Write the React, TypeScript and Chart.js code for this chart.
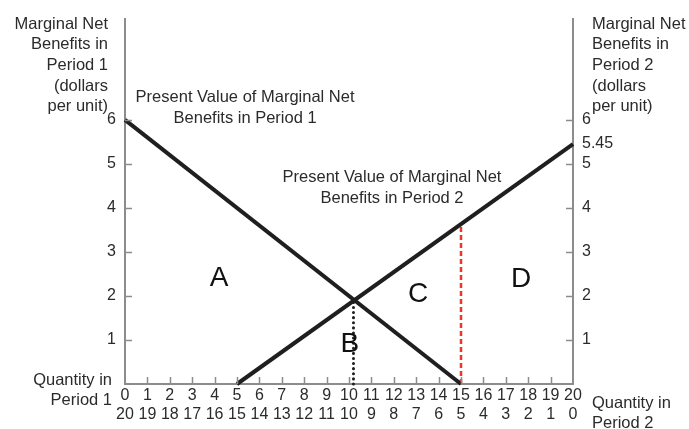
import React, { useEffect, useRef } from 'react';
import { Chart, registerables } from 'chart.js';

Chart.register(...registerables);

// ---- data ----
const qtyPeriod1 = [0, 1, 2, 3, 4, 5, 6, 7, 8, 9, 10, 11, 12, 13, 14, 15, 16, 17, 18, 19, 20];
const qtyPeriod2 = [20, 19, 18, 17, 16, 15, 14, 13, 12, 11, 10, 9, 8, 7, 6, 5, 4, 3, 2, 1, 0];
const leftTicks = [1, 2, 3, 4, 5, 6];
const rightTicks = [1, 2, 3, 4, 5, 5.45, 6];
const rightTickMarks = [1, 2, 3, 4, 5, 6];
const innerXTicks = [1, 2, 3, 4, 5, 6, 7, 8, 9, 10, 11, 12, 13, 14, 15, 16, 17, 18, 19];

const pvPeriod1 = [{ x: 0, y: 6 }, { x: 15, y: 0 }];
const pvPeriod2 = [{ x: 5, y: 0 }, { x: 20, y: 5.45 }];
const intersectionDrop = [{ x: 10.2, y: 0 }, { x: 10.2, y: 1.92 }];
const redDrop = [{ x: 15, y: 0 }, { x: 15, y: 3.63 }];

const areaLetters = ['A', 'B', 'C', 'D'];
const areaX = [4.2, 10.04, 13.08, 17.68];
const areaY = [2.4, 0.91, 2.04, 2.37];

const curveLabels = [
  ['Present Value of Marginal Net', 'Benefits in Period 1'],
  ['Present Value of Marginal Net', 'Benefits in Period 2'],
];
const curveLabelX = [5.36, 11.92];
const curveLabelY = [6.52, 4.7];

const leftTitle = ['Marginal Net', 'Benefits in', 'Period 1', '(dollars', 'per unit)'];
const rightTitle = ['Marginal Net', 'Benefits in', 'Period 2', '(dollars', 'per unit)'];
const bottomLeftTitle = ['Quantity in', 'Period 1'];
const bottomRightTitle = ['Quantity in', 'Period 2'];

const FONT = "'Liberation Sans', Arial, Helvetica, sans-serif";
const TEXT = '#2b2b2b';
const AXIS = '#8c8c8c';
const LINE = '#1f1f1f';

const overlayPlugin = {
  id: 'overlay',
  afterDraw(chart: any) {
    const { ctx, chartArea, scales } = chart;
    const x = scales.x;
    const y = scales.y;
    const y2 = scales.y2;
    ctx.save();
    // inward tick marks
    ctx.strokeStyle = AXIS;
    ctx.lineWidth = 1.5;
    ctx.beginPath();
    leftTicks.forEach((v) => {
      const py = Math.round(y.getPixelForValue(v)) + 0.5;
      ctx.moveTo(chartArea.left, py);
      ctx.lineTo(chartArea.left + 7, py);
    });
    rightTickMarks.forEach((v) => {
      const py = Math.round(y2.getPixelForValue(v)) + 0.5;
      ctx.moveTo(chartArea.right - 7, py);
      ctx.lineTo(chartArea.right, py);
    });
    innerXTicks.forEach((v) => {
      const px = Math.round(x.getPixelForValue(v)) + 0.5;
      ctx.moveTo(px, chartArea.bottom);
      ctx.lineTo(px, chartArea.bottom - 7);
    });
    ctx.stroke();

    // curve labels
    ctx.fillStyle = TEXT;
    ctx.font = `16.5px ${FONT}`;
    ctx.textAlign = 'center';
    ctx.textBaseline = 'middle';
    curveLabels.forEach((lines, i) => {
      const px = x.getPixelForValue(curveLabelX[i]);
      const py = y.getPixelForValue(curveLabelY[i]);
      lines.forEach((t, j) => ctx.fillText(t, px, py + j * 21));
    });

    // area letters
    ctx.fillStyle = '#111';
    ctx.font = `28px ${FONT}`;
    areaLetters.forEach((t, i) => {
      ctx.fillText(t, x.getPixelForValue(areaX[i]), y.getPixelForValue(areaY[i]));
    });

    // axis titles
    ctx.fillStyle = TEXT;
    ctx.font = `16.5px ${FONT}`;
    ctx.textBaseline = 'alphabetic';
    ctx.textAlign = 'right';
    leftTitle.forEach((t, j) => ctx.fillText(t, chartArea.left - 17, chartArea.top + 10 + j * 20.7));
    bottomLeftTitle.forEach((t, j) => ctx.fillText(t, chartArea.left - 13, chartArea.bottom + 1 + j * 20));
    ctx.textAlign = 'left';
    rightTitle.forEach((t, j) => ctx.fillText(t, chartArea.right + 19, chartArea.top + 10 + j * 20.7));
    bottomRightTitle.forEach((t, j) => ctx.fillText(t, chartArea.right + 19, chartArea.bottom + 24 + j * 20));
    ctx.restore();
  },
};

export default function App() {
  const ref = useRef<HTMLCanvasElement | null>(null);

  useEffect(() => {
    if (!ref.current) return;
    const chart = new Chart(ref.current, {
      type: 'scatter',
      data: {
        datasets: [
          {
            data: pvPeriod1,
            showLine: true,
            borderColor: LINE,
            borderWidth: 4,
            pointRadius: 0,
            clip: false as any,
            xAxisID: 'x',
            yAxisID: 'y',
          },
          {
            data: pvPeriod2,
            showLine: true,
            borderColor: LINE,
            borderWidth: 4,
            pointRadius: 0,
            clip: false as any,
            xAxisID: 'x',
            yAxisID: 'y',
          },
          {
            data: intersectionDrop,
            showLine: true,
            borderColor: LINE,
            borderWidth: 3,
            borderDash: [0.1, 5],
            borderCapStyle: 'round',
            pointRadius: 0,
            clip: false as any,
            xAxisID: 'x',
            yAxisID: 'y',
          },
          {
            data: redDrop,
            showLine: true,
            borderColor: '#e8392a',
            borderWidth: 2.5,
            borderDash: [5, 3],
            pointRadius: 0,
            clip: false as any,
            xAxisID: 'x',
            yAxisID: 'y',
          },
        ],
      },
      options: {
        animation: false,
        responsive: true,
        maintainAspectRatio: false,
        layout: { padding: { top: 17, left: 0, right: 0, bottom: 0 } },
        plugins: { legend: { display: false }, tooltip: { enabled: false } },
        scales: {
          x: {
            type: 'linear',
            position: 'bottom',
            min: 0,
            max: 20,
            afterFit: (s: any) => { s.height = 45; },
            afterBuildTicks: (s: any) => { s.ticks = qtyPeriod1.map((v) => ({ value: v })); },
            grid: { display: false, drawTicks: false },
            border: { display: true, color: AXIS, width: 2 },
            ticks: {
              autoSkip: false,
              maxRotation: 0,
              padding: 2,
              color: TEXT,
              font: { family: FONT, size: 16, lineHeight: 1.2 },
              callback: (_v: any, i: number) => [String(qtyPeriod1[i]), String(qtyPeriod2[i])],
            },
          },
          y: {
            type: 'linear',
            position: 'left',
            min: 0,
            max: 8.3,
            afterFit: (s: any) => { s.width = 125; },
            afterBuildTicks: (s: any) => { s.ticks = leftTicks.map((v) => ({ value: v })); },
            grid: { display: false, drawTicks: false },
            border: { display: true, color: AXIS, width: 2 },
            ticks: {
              autoSkip: false,
              padding: 9,
              color: TEXT,
              font: { family: FONT, size: 16 },
              callback: (v: any) => String(v),
            },
          },
          y2: {
            type: 'linear',
            position: 'right',
            min: 0,
            max: 8.3,
            afterFit: (s: any) => { s.width = 116; },
            afterBuildTicks: (s: any) => { s.ticks = rightTicks.map((v) => ({ value: v })); },
            grid: { display: false, drawTicks: false },
            border: { display: true, color: AXIS, width: 2 },
            ticks: {
              autoSkip: false,
              padding: 9,
              color: TEXT,
              font: { family: FONT, size: 16 },
              callback: (v: any) => String(v),
            },
          },
        },
      },
      plugins: [overlayPlugin],
    } as any);
    return () => chart.destroy();
  }, []);

  return (
    <div style={{ position: 'fixed', left: 0, top: 0, width: 689, height: 429, background: '#fff' }}>
      <canvas ref={ref} />
    </div>
  );
}
